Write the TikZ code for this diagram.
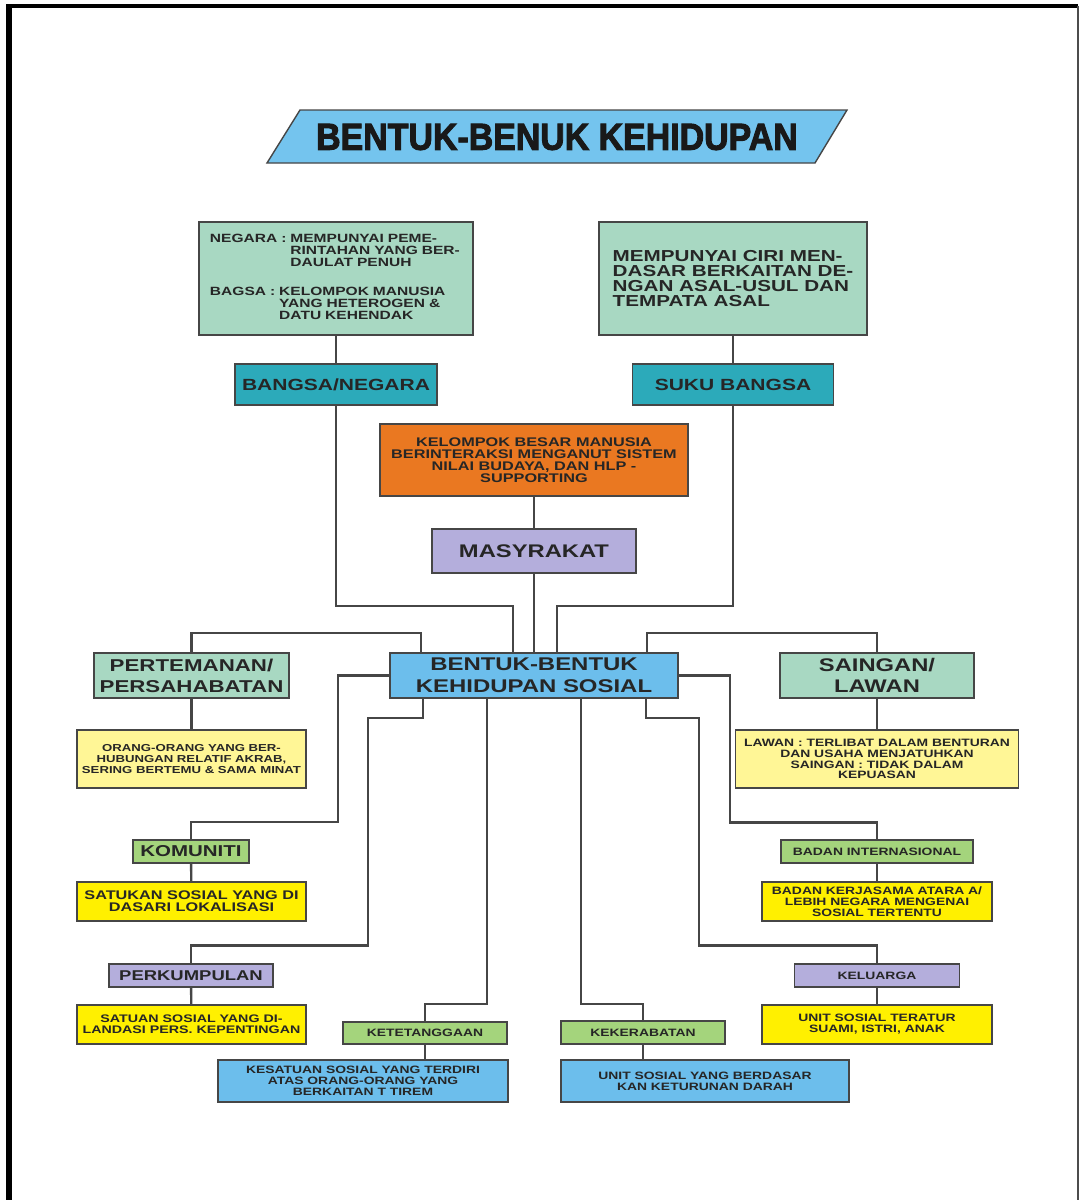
\documentclass[tikz,border=0pt]{standalone}
\usepackage{fontspec}
\setmainfont{Liberation Sans}[FakeStretch=1.3]
\newfontfamily\titlefont{Liberation Sans}[FakeStretch=0.9,FakeBold=2.5]
\usetikzlibrary{calc}

\definecolor{mintc}{RGB}{168,216,194}
\definecolor{tealc}{RGB}{44,170,186}
\definecolor{orangec}{RGB}{234,120,33}
\definecolor{lavc}{RGB}{180,174,220}
\definecolor{skyc}{RGB}{108,190,236}
\definecolor{titlec}{RGB}{116,196,238}
\definecolor{paleyel}{RGB}{255,246,150}
\definecolor{yelc}{RGB}{255,240,0}
\definecolor{leafc}{RGB}{164,212,124}
\definecolor{linec}{RGB}{70,70,70}

\newcommand\fz[2]{\fontsize{#1}{#2}\selectfont\bfseries}

\tikzset{
  bx/.style={draw=linec, line width=0.45mm, inner sep=0pt, align=center, text=black!85},
  sz/.style 2 args={minimum width=#1*0.25mm, minimum height=#2*0.25mm},
  conn/.style={draw=linec, line width=0.6mm},
}

\begin{document}
\begin{tikzpicture}[x=0.25mm, y=-0.25mm]
\useasboundingbox (0,0) rectangle (1083,1200);

% frame
\draw[line width=1.4mm] (9,1200) -- (9,6);
\draw[line width=0.8mm] (6,6) -- (1078,6);
\draw[line width=0.35mm, black!70] (1078,6) -- (1078,1200);

% title
\draw[fill=titlec, draw=linec, line width=0.35mm] (300,110) -- (847,110) -- (815,163) -- (267,163) -- cycle;
\node[text=black!90, font=\titlefont\bfseries\fontsize{26.8}{30}\selectfont] (title) at (557,137) {BENTUK-BENUK KEHIDUPAN};

% upper part
\node[bx, fill=mintc, sz={274}{113}, text width=63mm, align=left, font=\fz{8.5}{7.8}] (negara) at (336,278.5) {%
  \begin{tabular}{@{}l@{ }l@{}}
  NEGARA : & MEMPUNYAI PEME-\\
  & RINTAHAN YANG BER-\\
  & DAULAT PENUH
  \end{tabular}\\[12pt]
  \begin{tabular}{@{}l@{ }l@{}}
  BAGSA : & KELOMPOK MANUSIA\\
  & YANG HETEROGEN \&\\
  & DATU KEHENDAK
  \end{tabular}};
\node[bx, fill=tealc, sz={202}{41}, font=\fz{11.5}{13}] (bangsa) at (336,384.5) {BANGSA/NEGARA};
\node[bx, fill=mintc, sz={268}{113}, align=left, font=\fz{11.3}{10.5}] (ciri) at (733,278.5) {MEMPUNYAI CIRI MEN-\\DASAR BERKAITAN DE-\\NGAN ASAL-USUL DAN\\TEMPATA ASAL};
\node[bx, fill=tealc, sz={201}{41}, font=\fz{11.5}{13}] (suku) at (733,384.5) {SUKU BANGSA};
\node[bx, fill=orangec, sz={308}{72}, font=\fz{8.9}{8.5}] (kelompok) at (534,460) {KELOMPOK BESAR MANUSIA\\BERINTERAKSI MENGANUT SISTEM\\NILAI BUDAYA, DAN HLP -\\SUPPORTING};
\node[bx, fill=lavc, sz={204}{44}, font=\fz{13}{14}] (masy) at (534,551) {MASYRAKAT};

% centre
\node[bx, fill=skyc, sz={288}{45}, font=\fz{13.1}{15.6}] (sosial) at (534,675.5) {BENTUK-BENTUK\\KEHIDUPAN SOSIAL};

% left side
\node[bx, fill=mintc, sz={195}{45}, font=\fz{12.2}{14.9}] (teman) at (191.5,675.5) {PERTEMANAN/\\PERSAHABATAN};
\node[bx, fill=paleyel, sz={229}{58}, font=\fz{7.2}{7.7}] (temandesc) at (191.5,759) {ORANG-ORANG YANG BER-\\HUBUNGAN RELATIF AKRAB,\\SERING BERTEMU \& SAMA MINAT};
\node[bx, fill=leafc, sz={116}{23}, font=\fz{11.2}{12}] (komuniti) at (191,851.5) {KOMUNITI};
\node[bx, fill=yelc, sz={229}{39}, font=\fz{8.9}{8.75}] (komdesc) at (191.5,901.5) {SATUKAN SOSIAL YANG DI\\DASARI LOKALISASI};
\node[bx, fill=lavc, sz={164}{23}, font=\fz{10.1}{12}] (perkumpulan) at (191,975.5) {PERKUMPULAN};
\node[bx, fill=yelc, sz={229}{39}, font=\fz{7.8}{7.8}] (perkdesc) at (191.5,1024.5) {SATUAN SOSIAL YANG DI-\\LANDASI PERS. KEPENTINGAN};

% right side
\node[bx, fill=mintc, sz={194}{45}, font=\fz{13}{14.9}] (saingan) at (877,675.5) {SAINGAN/\\LAWAN};
\node[bx, fill=paleyel, sz={283}{58}, font=\fz{7.6}{7.7}] (lawandesc) at (877,759) {LAWAN : TERLIBAT DALAM BENTURAN\\DAN USAHA MENJATUHKAN\\SAINGAN : TIDAK DALAM\\KEPUASAN};
\node[bx, fill=leafc, sz={192}{23}, font=\fz{7.6}{8}] (badan) at (877,851.5) {BADAN INTERNASIONAL};
\node[bx, fill=yelc, sz={230}{39}, font=\fz{7.6}{7.7}] (badandesc) at (877,901.5) {BADAN KERJASAMA ATARA A/\\LEBIH NEGARA MENGENAI\\SOSIAL TERTENTU};
\node[bx, fill=lavc, sz={165}{23}, font=\fz{7.6}{8}] (keluarga) at (877,975.5) {KELUARGA};
\node[bx, fill=yelc, sz={230}{39}, font=\fz{7.6}{7.8}] (keldesc) at (877,1024.5) {UNIT SOSIAL TERATUR\\SUAMI, ISTRI, ANAK};

% bottom
\node[bx, fill=leafc, sz={164}{22}, font=\fz{7.6}{8}] (tetangga) at (425,1033) {KETETANGGAAN};
\node[bx, fill=skyc, sz={290}{42}, font=\fz{7.6}{7.7}] (tetdesc) at (363,1081) {KESATUAN SOSIAL YANG TERDIRI\\ATAS ORANG-ORANG YANG\\BERKAITAN T TIREM};
\node[bx, fill=leafc, sz={164}{23}, font=\fz{7.6}{8}] (kerabat) at (643,1032.5) {KEKERABATAN};
\node[bx, fill=skyc, sz={288}{42}, font=\fz{7.6}{7.8}] (kerdesc) at (705,1081) {UNIT SOSIAL YANG BERDASAR\\KAN KETURUNAN DARAH};

% connectors
\draw[conn] (negara) -- (bangsa);
\draw[conn] (ciri) -- (suku);
\draw[conn] (kelompok) -- (masy);
\draw[conn] (masy) -- (sosial);
\draw[conn] (bangsa.south) -- ++(0,200) -| ($(sosial.north)+(-21,0)$);
\draw[conn] (suku.south) -- ++(0,200) -| ($(sosial.north)+(23,0)$);
\draw[conn] ($(sosial.north)+(-113,0)$) -- ++(0,-19) -| (teman.north);
\draw[conn] ($(sosial.north)+(113,0)$) -- ++(0,-19) -| (saingan.north);
\draw[conn] (teman) -- (temandesc);
\draw[conn] (saingan) -- (lawandesc);
\draw[conn] (sosial.west) -- ++(-51,0) -- ++(0,146.5) -| (komuniti.north);
\draw[conn] (sosial.east) -- ++(51,0) -- ++(0,147) -| (badan.north);
\draw[conn] ($(sosial.south)+(-111,0)$) -- ++(0,19) -- ++(-55,0) -- ++(0,227.5) -| (perkumpulan.north);
\draw[conn] ($(sosial.south)+(112,0)$) -- ++(0,19) -- ++(53,0) -- ++(0,227.5) -| (keluarga.north);
\draw[conn] ($(sosial.south)+(-47,0)$) -- ++(0,305) -| (tetangga.north);
\draw[conn] ($(sosial.south)+(47,0)$) -- ++(0,305) -| (kerabat.north);
\draw[conn] (komuniti) -- (komdesc);
\draw[conn] (perkumpulan) -- (perkdesc);
\draw[conn] (badan) -- (badandesc);
\draw[conn] (keluarga) -- (keldesc);
\draw[conn] (tetangga.south) -- (tetangga.south |- tetdesc.north);
\draw[conn] (kerabat.south) -- (kerabat.south |- kerdesc.north);
\end{tikzpicture}
\end{document}
